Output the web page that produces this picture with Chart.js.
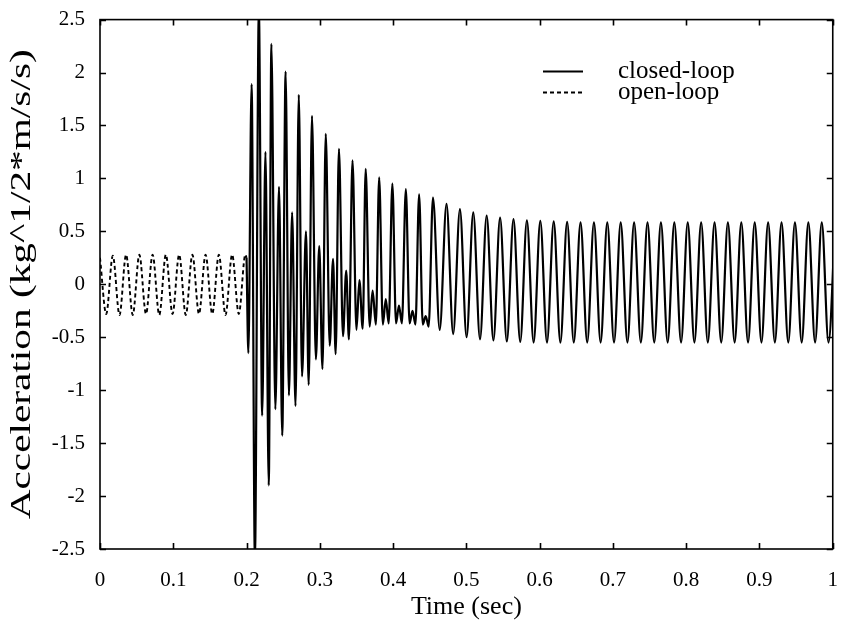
<!DOCTYPE html>
<html>
<head>
<meta charset="utf-8">
<script src="https://cdn.jsdelivr.net/npm/chart.js@4.4.1/dist/chart.umd.min.js"></script>
<style>
  html, body { margin: 0; padding: 0; background: #ffffff; }
  #wrap { width: 849px; height: 625px; }
</style>
</head>
<body>
<div id="wrap"><canvas id="c" width="849" height="625"></canvas></div>
<script>
// ---------- data ----------
const xTickLabels = ['0', '0.1', '0.2', '0.3', '0.4', '0.5', '0.6', '0.7', '0.8', '0.9', '1'];
const yTickLabels = ['-2.5', '-2', '-1.5', '-1', '-0.5', '0', '0.5', '1', '1.5', '2', '2.5'];
const seriesLabels = ['closed-loop', 'open-loop'];

// open-loop: extrema of the dashed trace (time in s, acceleration)
const openLoopTime = [0.0000, 0.0085, 0.0175, 0.0266, 0.0356, 0.0447, 0.0537, 0.0628,
  0.0718, 0.0809, 0.0899, 0.0990, 0.1080, 0.1171, 0.1261, 0.1351,
  0.1441, 0.1532, 0.1622, 0.1713, 0.1803, 0.1894, 0.1984, 0.2000];
const openLoopAccel = [0.25, -0.28, 0.27, -0.29, 0.28, -0.29, 0.28, -0.28,
  0.28, -0.29, 0.28, -0.28, 0.28, -0.29, 0.28, -0.28,
  0.28, -0.28, 0.28, -0.29, 0.28, -0.28, 0.28, 0.25];

// closed-loop: extrema of the solid trace
const closedLoopTime = [
  0.2000, 0.2025, 0.2069, 0.2114,
  0.2168, 0.2213, 0.2258, 0.2303,
  0.2339, 0.2393, 0.2443, 0.2487,
  0.2533, 0.2578, 0.2622, 0.2668,
  0.2713, 0.2757, 0.2811, 0.2848,
  0.2893, 0.2946, 0.2992, 0.3036,
  0.3081, 0.3135, 0.3180, 0.3216,
  0.3261, 0.3316, 0.3360, 0.3397,
  0.3446, 0.3500, 0.3540, 0.3585,
  0.3626, 0.3680, 0.3720, 0.3765,
  0.3810, 0.3860, 0.3900, 0.3940,
  0.3990, 0.4040, 0.4080, 0.4120,
  0.4174, 0.4225, 0.4265, 0.4305,
  0.4355, 0.4405, 0.4445, 0.4485,
  0.4544, 0.4636,
  0.4729, 0.4820, 0.4912, 0.5003, 0.5094, 0.5186, 0.5277, 0.5369, 0.5460, 0.5552,
  0.5643, 0.5735, 0.5826, 0.5918, 0.6009, 0.6100, 0.6192, 0.6283, 0.6375, 0.6466,
  0.6558, 0.6649, 0.6741, 0.6832, 0.6923, 0.7015, 0.7106, 0.7198, 0.7289, 0.7381,
  0.7472, 0.7564, 0.7655, 0.7747, 0.7838, 0.7930, 0.8021, 0.8112, 0.8204, 0.8295,
  0.8387, 0.8478, 0.8569, 0.8661, 0.8752, 0.8844, 0.8935, 0.9027, 0.9118, 0.9210,
  0.9301, 0.9393, 0.9484, 0.9576, 0.9667, 0.9759, 0.9850, 0.9942,
  1.0033];
const closedLoopAccel = [
  0.25, -0.65, 1.89, -2.60,
  2.60, -1.24, 1.25, -1.90,
  2.27, -1.18, 0.92, -1.43,
  2.01, -1.05, 0.68, -1.15,
  1.79, -0.87, 0.50, -0.95,
  1.59, -0.71, 0.36, -0.80,
  1.42, -0.58, 0.24, -0.66,
  1.28, -0.49, 0.13, -0.52,
  1.17, -0.43, 0.04, -0.42,
  1.09, -0.40, -0.06, -0.38,
  1.01, -0.38, -0.14, -0.37,
  0.95, -0.37, -0.20, -0.37,
  0.90, -0.37, -0.25, -0.38,
  0.85, -0.38, -0.30, -0.40,
  0.82, -0.43,
  0.76, -0.47, 0.71, -0.50, 0.68, -0.52, 0.65, -0.53, 0.63, -0.54,
  0.615, -0.545, 0.605, -0.55, 0.60, -0.55, 0.595, -0.55, 0.59, -0.55,
  0.585, -0.55, 0.585, -0.55, 0.585, -0.55, 0.585, -0.55, 0.585, -0.55,
  0.585, -0.55, 0.585, -0.55, 0.585, -0.55, 0.585, -0.55, 0.585, -0.55,
  0.585, -0.55, 0.585, -0.55, 0.585, -0.55, 0.585, -0.55, 0.585, -0.55,
  0.585, -0.55, 0.585, -0.55, 0.585, -0.55, 0.585, -0.55,
  0.585];

const xTitle = 'Time (sec)';
const yTitle = 'Acceleration (kg^1/2*m/s/s)';

// ---------- build chart ----------
function toPoints(xs, ys) {
  const n = Math.min(xs.length, ys.length);
  const out = [];
  for (let i = 0; i < n; i++) out.push({ x: xs[i], y: ys[i] });
  return out;
}

const SERIF = '"Liberation Serif", "Times New Roman", serif';
const TICK_LEN = 6;

const framePlugin = {
  id: 'frameTicks',
  afterDatasetsDraw(chart) {
    const { ctx, chartArea: a, scales } = chart;
    ctx.save();
    ctx.strokeStyle = '#000';
    ctx.lineWidth = 1.6;
    ctx.strokeRect(a.left, a.top, a.right - a.left, a.bottom - a.top);
    ctx.beginPath();
    scales.x.ticks.forEach(t => {
      const px = Math.round(scales.x.getPixelForValue(t.value)) + 0.5;
      ctx.moveTo(px, a.bottom); ctx.lineTo(px, a.bottom - TICK_LEN);
      ctx.moveTo(px, a.top); ctx.lineTo(px, a.top + TICK_LEN);
    });
    scales.y.ticks.forEach(t => {
      const py = Math.round(scales.y.getPixelForValue(t.value)) + 0.5;
      ctx.moveTo(a.left, py); ctx.lineTo(a.left + TICK_LEN, py);
      ctx.moveTo(a.right, py); ctx.lineTo(a.right - TICK_LEN, py);
    });
    ctx.stroke();
    ctx.restore();
  }
};

// y-axis title: the scanned label is stretched along its baseline
const yTitlePlugin = {
  id: 'yTitle',
  afterDraw(chart) {
    const { ctx, chartArea: a } = chart;
    ctx.save();
    ctx.translate(22, (a.top + a.bottom) / 2);
    ctx.rotate(-Math.PI / 2);
    ctx.font = '29px ' + SERIF;
    const w = ctx.measureText(yTitle).width;
    ctx.scale(470 / w, 1);
    ctx.fillStyle = '#000';
    ctx.textAlign = 'center';
    ctx.textBaseline = 'middle';
    ctx.fillText(yTitle, 0, 0);
    ctx.restore();
  }
};

const legendPlugin = {
  id: 'insideLegend',
  afterDraw(chart) {
    const { ctx } = chart;
    const rows = [{ y: 71 }, { y: 92 }];
    ctx.save();
    chart.data.datasets.forEach((ds, i) => {
      const y = rows[i].y + 0.5;
      ctx.beginPath();
      ctx.strokeStyle = ds.borderColor;
      ctx.lineWidth = ds.borderWidth;
      ctx.setLineDash(ds.borderDash || []);
      ctx.moveTo(543, y); ctx.lineTo(583, y);
      ctx.stroke();
      ctx.setLineDash([]);
      ctx.fillStyle = '#000';
      ctx.font = '25px ' + SERIF;
      ctx.textBaseline = 'middle';
      ctx.textAlign = 'left';
      ctx.fillText(ds.label, 618, rows[i].y);
    });
    ctx.restore();
  }
};

new Chart(document.getElementById('c'), {
  type: 'line',
  data: {
    datasets: [
      {
        label: seriesLabels[0],
        data: toPoints(closedLoopTime, closedLoopAccel),
        borderColor: '#000',
        borderWidth: 2.2,
        pointRadius: 0,
        cubicInterpolationMode: 'monotone',
        fill: false
      },
      {
        label: seriesLabels[1],
        data: toPoints(openLoopTime, openLoopAccel),
        borderColor: '#000',
        borderWidth: 1.9,
        borderDash: [4, 3],
        pointRadius: 0,
        cubicInterpolationMode: 'monotone',
        fill: false
      }
    ]
  },
  options: {
    responsive: false,
    animation: false,
    devicePixelRatio: 1,
    layout: { padding: { top: 18, right: 8, left: 0, bottom: 0 } },
    plugins: { legend: { display: false }, tooltip: { enabled: false } },
    scales: {
      x: {
        type: 'linear',
        min: 0, max: 1,
        grid: { display: false },
        border: { display: false },
        ticks: {
          stepSize: 0.1,
          autoSkip: false,
          maxRotation: 0,
          padding: 11,
          color: '#000',
          font: { family: SERIF, size: 21 },
          callback: (v, i) => xTickLabels[i]
        },
        title: {
          display: true,
          text: xTitle,
          color: '#000',
          font: { family: SERIF, size: 26 },
          padding: { top: 0, bottom: 2 }
        },
        afterFit(scale) { scale.height = 76; }
      },
      y: {
        type: 'linear',
        min: -2.5, max: 2.5,
        grid: { display: false },
        border: { display: false },
        ticks: {
          stepSize: 0.5,
          autoSkip: false,
          padding: 7,
          color: '#000',
          font: { family: SERIF, size: 21 },
          callback: (v, i) => yTickLabels[i]
        },
        title: { display: false },
        afterFit(scale) { scale.width = 100; }
      }
    }
  },
  plugins: [framePlugin, yTitlePlugin, legendPlugin]
});
</script>
</body>
</html>
